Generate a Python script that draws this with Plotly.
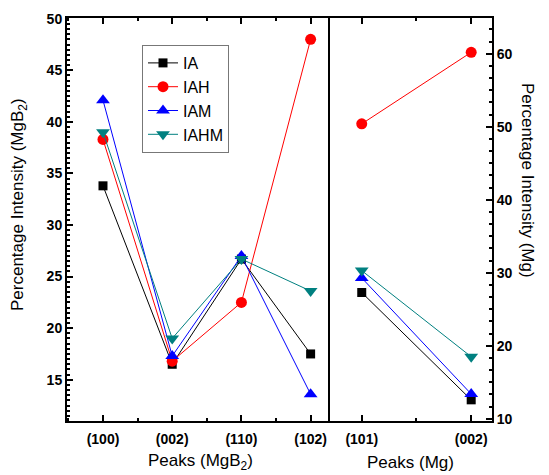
import plotly.graph_objects as go

# ---- data ----
peaks_mgb2 = ["(100)", "(002)", "(110)", "(102)"]
peaks_mg = ["(101)", "(002)"]

series_names = ["IA", "IAH", "IAM", "IAHM"]
mgb2_IA = [33.8, 16.5, 26.7, 17.5]
mgb2_IAH = [38.3, 16.8, 22.5, 48.0]
mgb2_IAM = [42.1, 17.3, 27.0, 13.6]
mgb2_IAHM = [39.0, 19.0, 26.7, 23.6]

mg_IA = [27.3, 12.6]
mg_IAH = [50.4, 60.2]
mg_IAM = [29.3, 13.4]
mg_IAHM = [30.3, 18.5]

colors = ["#000000", "#ff0000", "#0000ff", "#008080"]
symbols = ["square", "circle", "triangle-up", "triangle-down"]
sizes = [9, 11, 12, 12]

left_vals = [mgb2_IA, mgb2_IAH, mgb2_IAM, mgb2_IAHM]
right_vals = [mg_IA, mg_IAH, mg_IAM, mg_IAHM]

xl = list(range(len(peaks_mgb2)))
xr = list(range(len(peaks_mg)))

fig = go.Figure()
for name, c, s, sz, lv in zip(series_names, colors, symbols, sizes, left_vals):
    fig.add_trace(go.Scatter(x=xl, y=lv, name=name, mode="lines+markers",
                             line=dict(color=c, width=1),
                             marker=dict(color=c, symbol=s, size=sz),
                             xaxis="x", yaxis="y"))
for name, c, s, sz, rv in zip(series_names, colors, symbols, sizes, right_vals):
    fig.add_trace(go.Scatter(x=xr, y=rv, name=name, mode="lines+markers",
                             line=dict(color=c, width=1),
                             marker=dict(color=c, symbol=s, size=sz),
                             xaxis="x2", yaxis="y2", showlegend=False))

# page body has an 8px default margin: work in page pixels, shift by OFF
OFF = 8
PW, PH = 549, 475
W, H = PW - OFF, PH - OFF
left_px, top_px, right_px, bottom_px, split_px = 67, 18, 492, 421, 330
ml, mt = left_px - OFF, top_px - OFF
mr, mb = PW - right_px, PH - bottom_px
pw = right_px - left_px
ph = bottom_px - top_px
split = (split_px - left_px) / pw

def px(x):
    return (x - left_px) / pw
def py(y):
    return (bottom_px - y) / ph

axis_common = dict(showline=True, linecolor="black", linewidth=2, showgrid=False,
                   zeroline=False, ticks="inside", ticklen=6, tickwidth=1.5,
                   tickcolor="black")
tickfont = dict(family="Liberation Sans, Arial", size=14, color="black", weight="bold")
minor_x = dict(dtick=0.5, tick0=0, ticks="inside", ticklen=3, tickwidth=1.5,
               tickcolor="black")

fig.update_layout(
    width=W, height=H,
    margin=dict(l=ml, r=mr, t=mt, b=mb, autoexpand=False),
    paper_bgcolor="white", plot_bgcolor="white",
    font=dict(family="Liberation Sans, Arial", color="black"),
    xaxis=dict(domain=[0, split], range=[-0.52, 3.28], anchor="y",
               tickmode="array", tickvals=xl, ticktext=peaks_mgb2,
               mirror="ticks", tickfont=tickfont, ticklabelstandoff=4,
               minor=minor_x, **axis_common),
    yaxis=dict(domain=[0, 1], range=[11.0, 50.07], anchor="x", dtick=5, tick0=0,
               mirror=False, tickfont=tickfont,
               minor=dict(dtick=0.5, tick0=0, ticks="inside", ticklen=3,
                          tickwidth=1.5, tickcolor="black"),
               **axis_common),
    xaxis2=dict(domain=[split, 1], range=[-0.29, 1.19], anchor="y2",
                tickmode="array", tickvals=xr, ticktext=peaks_mg,
                mirror="ticks", tickfont=tickfont, ticklabelstandoff=4,
                minor=minor_x, **axis_common),
    yaxis2=dict(domain=[0, 1], range=[9.7, 64.9], anchor="x2", side="right",
                dtick=10, tick0=0, mirror=True, tickfont=tickfont,
                minor=dict(dtick=10 / 6, tick0=10, ticks="inside", ticklen=3,
                           tickwidth=1.5, tickcolor="black"),
                **axis_common),
    legend=dict(x=px(142), y=py(45),
                xanchor="left", yanchor="top",
                bgcolor="white", bordercolor="#777777", borderwidth=1,
                font=dict(size=16, family="Liberation Sans, Arial"),
                tracegroupgap=0),
    showlegend=True,
)

title_font = dict(family="Liberation Sans, Arial", size=17, color="black")
common_ann = dict(xref="paper", yref="paper", showarrow=False,
                  xanchor="center", yanchor="middle", font=title_font)
fig.add_annotation(text="Percentage Intensity (MgB<sub>2</sub>)", x=px(19), y=py(205),
                   textangle=-90, **common_ann)
fig.add_annotation(text="Percentage Intensity (Mg)", x=px(528), y=py(180),
                   textangle=90, **common_ann)
fig.add_annotation(text="Peaks (MgB<sub>2</sub>)", x=px(200), y=py(462), **common_ann)
fig.add_annotation(text="Peaks (Mg)", x=px(410), y=py(462), **common_ann)

fig.write_html("out.html")
